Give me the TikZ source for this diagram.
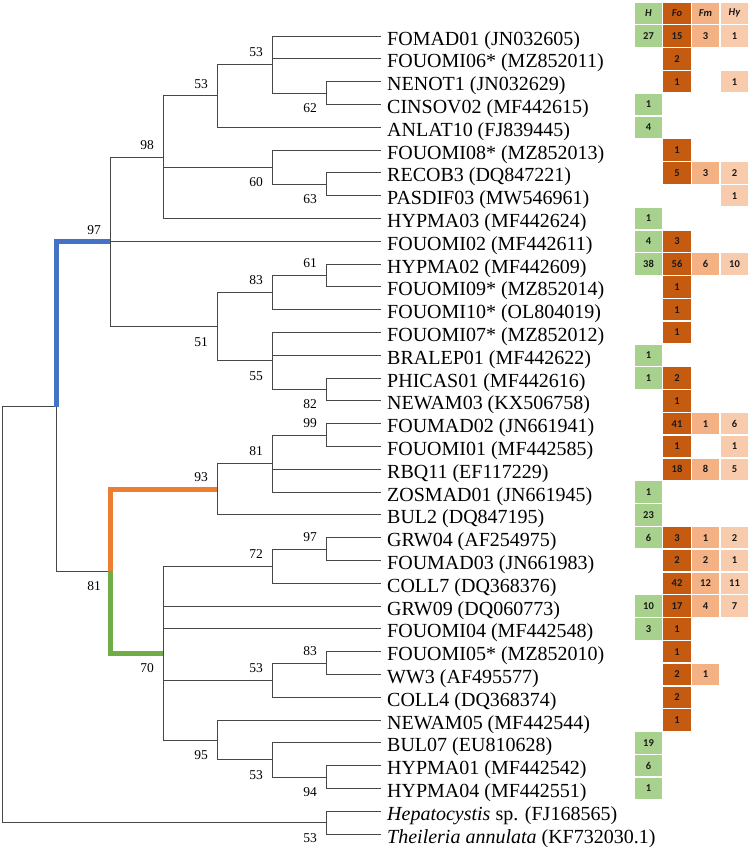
\documentclass[tikz,border=0pt]{standalone}
\usepackage{fontspec}
\setmainfont{Liberation Serif}
\newfontfamily\cellfont{Carlito}
\usepackage{tikz}
\definecolor{cladeblue}{HTML}{4472C4}
\definecolor{cladeorange}{HTML}{ED7D31}
\definecolor{cladegreen}{HTML}{70AD47}
\definecolor{hgreen}{HTML}{A9D18E}
\definecolor{fodark}{HTML}{C55A11}
\definecolor{fmmid}{HTML}{F4B183}
\definecolor{hylight}{HTML}{F8CBAD}

\begin{document}
\begin{tikzpicture}[x=1pt,y=-1pt] \tikzset{% This is the style settings for the tree and the table
        br/.style={draw=black!72, line width=0.9pt}, hl/.style={line width=5pt},
        leaf/.style={anchor=west, inner xsep=6pt, inner ysep=0pt, text height=18pt, text depth=0pt, font=\fontsize{20}{22}\selectfont},
        bs/.style={inner sep=0pt, font=\fontsize{13.5}{15}\selectfont},
        bsup/.style={bs, xshift=-16pt, yshift=12pt}, bsdn/.style={bs, xshift=-16pt, yshift=-15pt},
        cell/.style={minimum width=27.3pt, minimum height=21.4pt, inner sep=0pt, text=black!90, font=\cellfont\bfseries\fontsize{10.5}{11}\selectfont},
        hcell/.style={cell, fill=hgreen}, focell/.style={cell, fill=fodark},
        fmcell/.style={cell, fill=fmmid}, hycell/.style={cell, fill=hylight},
        head/.style={font=\cellfont\bfseries\itshape\fontsize{10.5}{11}\selectfont},
        %head/.style={font=\cellfont\itshape},
        }
        \useasboundingbox (0,0) rectangle (749,847);
        % Leaves
        \node[leaf] (l0) at (381,36) {FOMAD01 (JN032605)}; \node[leaf] (l1) at (381,58.8) {FOUOMI06* (MZ852011)};
        \node[leaf] (l2) at (381,81.6) {NENOT1 (JN032629)}; \node[leaf] (l3) at (381,104.4) {CINSOV02 (MF442615)};
        \node[leaf] (l4) at (381,127.2) {ANLAT10 (FJ839445)}; \node[leaf] (l5) at (381,150) {FOUOMI08* (MZ852013)};
        \node[leaf] (l6) at (381,172.8) {RECOB3 (DQ847221)}; \node[leaf] (l7) at (381,195.6) {PASDIF03 (MW546961)};
        \node[leaf] (l8) at (381,218.4) {HYPMA03 (MF442624)}; \node[leaf] (l9) at (381,241.2) {FOUOMI02 (MF442611)};
        \node[leaf] (l10) at (381,264) {HYPMA02 (MF442609)}; \node[leaf] (l11) at (381,286.8) {FOUOMI09* (MZ852014)};
        \node[leaf] (l12) at (381,309.6) {FOUOMI10* (OL804019)}; \node[leaf] (l13) at (381,332.4) {FOUOMI07* (MZ852012)};
        \node[leaf] (l14) at (381,355.2) {BRALEP01 (MF442622)}; \node[leaf] (l15) at (381,378) {PHICAS01 (MF442616)};
        \node[leaf] (l16) at (381,400.8) {NEWAM03 (KX506758)}; \node[leaf] (l17) at (381,423.6) {FOUMAD02 (JN661941)};
        \node[leaf] (l18) at (381,446.4) {FOUOMI01 (MF442585)}; \node[leaf] (l19) at (381,469.2) {RBQ11 (EF117229)};
        \node[leaf] (l20) at (381,492) {ZOSMAD01 (JN661945)}; \node[leaf] (l21) at (381,514.8) {BUL2 (DQ847195)};
        \node[leaf] (l22) at (381,537.6) {GRW04 (AF254975)}; \node[leaf] (l23) at (381,560.4) {FOUMAD03 (JN661983)};
        \node[leaf] (l24) at (381,583.2) {COLL7 (DQ368376)}; \node[leaf] (l25) at (381,606) {GRW09 (DQ060773)};
        \node[leaf] (l26) at (381,628.8) {FOUOMI04 (MF442548)}; \node[leaf] (l27) at (381,651.6) {FOUOMI05* (MZ852010)};
        \node[leaf] (l28) at (381,674.4) {WW3 (AF495577)}; \node[leaf] (l29) at (381,697.2) {COLL4 (DQ368374)};
        \node[leaf] (l30) at (381,720) {NEWAM05 (MF442544)}; \node[leaf] (l31) at (381,742.8) {BUL07 (EU810628)};
        \node[leaf] (l32) at (381,765.6) {HYPMA01 (MF442542)}; \node[leaf] (l33) at (381,788.4) {HYPMA04 (MF442551)};
        \node[leaf] (l34) at (381,811.2) {\textit{Hepatocystis} sp. (FJ168565)};
        \node[leaf] (l35) at (381,834) {\textit{Theileria annulata} (KF732030.1)};
        % Inner nodes
        \coordinate (root) at (2,614.5); \coordinate (cX) at (56,406.5); \coordinate (c97a) at (110,241.9);
        \coordinate (c98) at (163,157.1); \coordinate (c53a) at (217,95.9); \coordinate (c53b) at (272,64.5);
        \coordinate (c62) at (326,93); \coordinate (c60) at (272,167.1); \coordinate (c63) at (326,184.2);
        \coordinate (c51) at (217,326.7); \coordinate (c83a) at (272,292.5); \coordinate (c61) at (326,275.4);
        \coordinate (c55) at (272,360.9); \coordinate (c82) at (326,389.4); \coordinate (c81a) at (110,571.1);
        \coordinate (c93) at (217,489.2); \coordinate (c81b) at (272,463.5); \coordinate (c99) at (326,435);
        \coordinate (c70) at (163,653); \coordinate (c72) at (272,566.1); \coordinate (c97b) at (326,549);
        \coordinate (c53c) at (272,680.1); \coordinate (c83b) at (326,663); \coordinate (c95) at (217,740);
        \coordinate (c53d) at (272,759.9); \coordinate (c94) at (326,777); \coordinate (c53e) at (326,822.6);
        %Edges
        \draw[br] (c53b) |- (l0.west) (c53b) |- (l1.west) (c53b) |- (c62); \draw[br] (c62) |- (l2.west) (c62) |- (l3.west);
        \draw[br] (c53a) |- (c53b) (c53a) |- (l4.west); \draw[br] (c60) |- (l5.west) (c60) |- (c63);
        \draw[br] (c63) |- (l6.west) (c63) |- (l7.west); \draw[br] (c98) |- (c53a) (c98) |- (c60) (c98) |- (l8.west);
        \draw[br] (c97a) |- (c98) (c97a) |- (l9.west) (c97a) |- (c51); \draw[br] (c51) |- (c83a) (c51) |- (c55);
        \draw[br] (c83a) |- (c61) (c83a) |- (l12.west); \draw[br] (c61) |- (l10.west) (c61) |- (l11.west);
        \draw[br] (c55) |- (l13.west) (c55) |- (l14.west) (c55) |- (c82); \draw[br] (c82) |- (l15.west) (c82) |- (l16.west);
        \draw[br] (cX) |- (c97a) (cX) |- (c81a); \draw[br] (root) |- (cX) (root) |- (c53e);
        \draw[br] (c93) |- (c81b) (c93) |- (l21.west); \draw[br] (c81b) |- (c99) (c81b) |- (l19.west) (c81b) |- (l20.west);
        \draw[br] (c99) |- (l17.west) (c99) |- (l18.west);
        \draw[br] (c70) |- (c72) (c70) |- (l25.west) (c70) |- (l26.west) (c70) |- (c53c) (c70) |- (c95);
        \draw[br] (c72) |- (c97b) (c72) |- (l24.west); \draw[br] (c97b) |- (l22.west) (c97b) |- (l23.west);
        \draw[br] (c53c) |- (c83b) (c53c) |- (l29.west); \draw[br] (c83b) |- (l27.west) (c83b) |- (l28.west);
        \draw[br] (c95) |- (l30.west) (c95) |- (c53d); \draw[br] (c53d) |- (l31.west) (c53d) |- (c94);
        \draw[br] (c94) |- (l32.west) (c94) |- (l33.west); \draw[br] (c53e) |- (l34.west) (c53e) |- (l35.west);
        % coloured clades
        \draw[hl, cladeblue] (cX) |- (c97a); \draw[hl, cladegreen] (c81a) |- (c70); \draw[hl, cladeorange] (c81a) |- (c93);
        % Bootstrap values
        \node[bsup] (s53b) at (c53b) {53}; \node[bsdn] (s62) at (c62) {62}; \node[bsup] (s53a) at (c53a) {53};
        \node[bsup] (s98) at (c98) {98}; \node[bsdn] (s60) at (c60) {60}; \node[bsdn] (s63) at (c63) {63};
        \node[bsup] (s97a) at (c97a) {97}; \node[bsup] (s61) at (c61) {61}; \node[bsup] (s83a) at (c83a) {83};
        \node[bsdn] (s51) at (c51) {51}; \node[bsdn] (s55) at (c55) {55}; \node[bsdn] (s82) at (c82) {82};
        \node[bsup] (s99) at (c99) {99}; \node[bsup] (s81b) at (c81b) {81}; \node[bsup] (s93) at (c93) {93};
        \node[bsdn] (s81a) at (c81a) {81}; \node[bsup] (s97b) at (c97b) {97}; \node[bsup] (s72) at (c72) {72};
        \node[bsup] (s83b) at (c83b) {83}; \node[bsup] (s53c) at (c53c) {53}; \node[bsdn] (s70) at (c70) {70};
        \node[bsdn] (s95) at (c95) {95}; \node[bsdn] (s53d) at (c53d) {53}; \node[bsdn] (s94) at (c94) {94};
        \node[bsdn] (s53e) at (c53e) {53};
        % Table
        \node[hcell, head] (hH) at (648.5,13.2) {H}; \node[focell, head] (hFo) at (677,13.2) {Fo};
        \node[fmcell, head] (hFm) at (705.5,13.2) {Fm}; \node[hycell, head] (hHy) at (734.5,13.2) {Hy};
        \node[hcell] (h0) at (648.5,36) {27}; \node[focell] (fo0) at (677,36) {15}; \node[fmcell] (fm0) at (705.5,36) {3}; \node[hycell] (hy0) at (734.5,36) {1};
        \node[focell] (fo1) at (677,58.8) {2};
        \node[focell] (fo2) at (677,81.6) {1}; \node[hycell] (hy2) at (734.5,81.6) {1};
        \node[hcell] (h3) at (648.5,104.4) {1}; \node[hcell] (h4) at (648.5,127.2) {4};
        \node[focell] (fo5) at (677,150) {1};
        \node[focell] (fo6) at (677,172.8) {5}; \node[fmcell] (fm6) at (705.5,172.8) {3}; \node[hycell] (hy6) at (734.5,172.8) {2};
        \node[hycell] (hy7) at (734.5,195.6) {1}; \node[hcell] (h8) at (648.5,218.4) {1};
        \node[hcell] (h9) at (648.5,241.2) {4}; \node[focell] (fo9) at (677,241.2) {3};
        \node[hcell] (h10) at (648.5,264) {38}; \node[focell] (fo10) at (677,264) {56}; \node[fmcell] (fm10) at (705.5,264) {6}; \node[hycell] (hy10) at (734.5,264) {10};
        \node[focell] (fo11) at (677,286.8) {1}; \node[focell] (fo12) at (677,309.6) {1}; \node[focell] (fo13) at (677,332.4) {1};
        \node[hcell] (h14) at (648.5,355.2) {1};
        \node[hcell] (h15) at (648.5,378) {1}; \node[focell] (fo15) at (677,378) {2};
        \node[focell] (fo16) at (677,400.8) {1};
        \node[focell] (fo17) at (677,423.6) {41}; \node[fmcell] (fm17) at (705.5,423.6) {1}; \node[hycell] (hy17) at (734.5,423.6) {6};
        \node[focell] (fo18) at (677,446.4) {1}; \node[hycell] (hy18) at (734.5,446.4) {1};
        \node[focell] (fo19) at (677,469.2) {18}; \node[fmcell] (fm19) at (705.5,469.2) {8}; \node[hycell] (hy19) at (734.5,469.2) {5};
        \node[hcell] (h20) at (648.5,492) {1}; \node[hcell] (h21) at (648.5,514.8) {23};
        \node[hcell] (h22) at (648.5,537.6) {6}; \node[focell] (fo22) at (677,537.6) {3}; \node[fmcell] (fm22) at (705.5,537.6) {1}; \node[hycell] (hy22) at (734.5,537.6) {2};
        \node[focell] (fo23) at (677,560.4) {2}; \node[fmcell] (fm23) at (705.5,560.4) {2}; \node[hycell] (hy23) at (734.5,560.4) {1};
        \node[focell] (fo24) at (677,583.2) {42}; \node[fmcell] (fm24) at (705.5,583.2) {12}; \node[hycell] (hy24) at (734.5,583.2) {11};
        \node[hcell] (h25) at (648.5,606) {10}; \node[focell] (fo25) at (677,606) {17}; \node[fmcell] (fm25) at (705.5,606) {4}; \node[hycell] (hy25) at (734.5,606) {7};
        \node[hcell] (h26) at (648.5,628.8) {3}; \node[focell] (fo26) at (677,628.8) {1};
        \node[focell] (fo27) at (677,651.6) {1};
        \node[focell] (fo28) at (677,674.4) {2}; \node[fmcell] (fm28) at (705.5,674.4) {1};
        \node[focell] (fo29) at (677,697.2) {2}; \node[focell] (fo30) at (677,720) {1};
        \node[hcell] (h31) at (648.5,742.8) {19}; \node[hcell] (h32) at (648.5,765.6) {6}; \node[hcell] (h33) at (648.5,788.4) {1};
\end{tikzpicture}
\end{document}
